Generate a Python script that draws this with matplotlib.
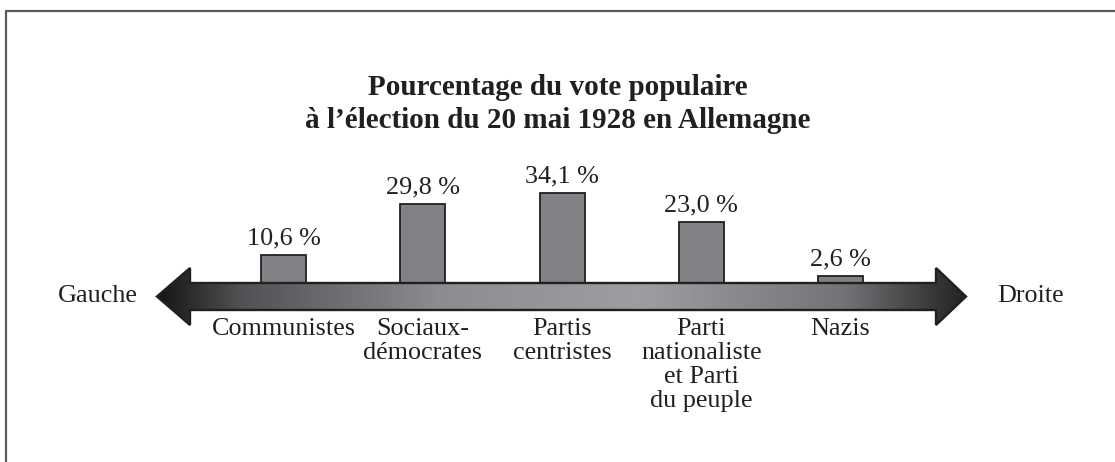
import numpy as np
import matplotlib
matplotlib.use('Agg')
import matplotlib.pyplot as plt
from matplotlib.patches import Polygon
from matplotlib.colors import LinearSegmentedColormap

# données
partis = ['Communistes', 'Sociaux-\ndémocrates', 'Partis\ncentristes',
          'Parti\nnationaliste\net Parti\ndu peuple', 'Nazis']
votes = [10.6, 29.8, 34.1, 23.0, 2.6]
etiquettes = ['10,6 %', '29,8 %', '34,1 %', '23,0 %', '2,6 %']
titre = 'Pourcentage du vote populaire\nà l\u2019élection du 20 mai 1928 en Allemagne'

plt.rcParams['font.family'] = ['Liberation Serif', 'DejaVu Serif']
ink = '#231f20'

W, H = 1115, 462
fig = plt.figure(figsize=(W / 100, H / 100), dpi=100)

# axe de fond en pixels (cadre, flèche, textes)
ax = fig.add_axes([0, 0, 1, 1])
ax.set_xlim(0, W)
ax.set_ylim(H, 0)
ax.axis('off')
ax.set_zorder(2)

ax.plot([6, 6, W], [H, 11, 11], color='#5a5a5a', lw=1.6, solid_capstyle='butt')

# flèche gauche-droite
y_top, y_bot, y_mid = 283, 310, 296.5
pts = [(157, y_mid), (190, 268), (190, y_top), (936, y_top), (936, 268),
       (966, y_mid), (936, 325), (936, y_bot), (190, y_bot), (190, 325)]
fleche = Polygon(pts, closed=True, facecolor='none', edgecolor=ink, lw=1.7,
                 joinstyle='miter', zorder=3)
ax.add_patch(fleche)
cmap = LinearSegmentedColormap.from_list(
    'grad', [(0, '#161616'), (0.1, '#505153'), (0.35, '#8c8d90'),
             (0.6, '#9d9ea1'), (0.85, '#737477'), (1, '#242424')])
grad = np.linspace(0, 1, 400)[None, :]
img = ax.imshow(grad, cmap=cmap, extent=[157, 966, 325, 268], aspect='auto',
                zorder=2, interpolation='bilinear')
img.set_clip_path(fleche)
ax.set_xlim(0, W)
ax.set_ylim(H, 0)

ax.text(558, 104, titre, ha='center', va='center', fontsize=21,
        fontweight='bold', color=ink, linespacing=1.25)
ax.text(98, y_mid, 'Gauche', ha='center', va='center', fontsize=18.8, color=ink)
ax.text(1031, y_mid, 'Droite', ha='center', va='center', fontsize=18.8, color=ink)

# barres
px_par_pct = 2.65
x0, pas = 283.5, 139.25
bx = fig.add_axes([0, 1 - y_top / H, 1, y_top / H])
bx.set_zorder(1)
bx.set_xlim(-x0 / pas, (W - x0) / pas)
bx.set_ylim(0, y_top / px_par_pct)
bx.axis('off')
pos = np.arange(len(votes))
bx.bar(pos, votes, width=45 / pas, color='#808285', edgecolor=ink, lw=1.3)
for x, v, t in zip(pos, votes, etiquettes):
    bx.annotate(t, (x, v), xytext=(0, 7.5), textcoords='offset points',
                ha='center', va='baseline', fontsize=18.8, color=ink)
for x, nom in zip(pos, partis):
    ax.text(x0 + x * pas, 318, nom, ha='center', va='top', fontsize=18.8,
            color=ink, linespacing=1.12)

fig.savefig('out.png', dpi=100)
